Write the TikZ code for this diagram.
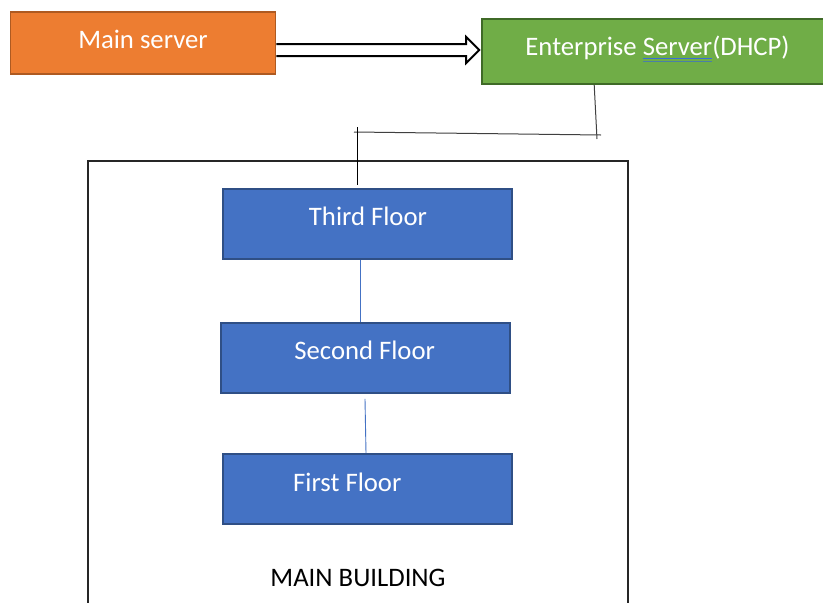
\documentclass[tikz,border=0pt]{standalone}
\usepackage{fontspec}
\setmainfont{Carlito}
\usetikzlibrary{calc}
\definecolor{orfill}{HTML}{ED7D31}
\definecolor{ordraw}{HTML}{AE5A21}
\definecolor{grfill}{HTML}{70AD47}
\definecolor{grdraw}{HTML}{3F6A27}
\definecolor{blfill}{HTML}{4472C4}
\definecolor{bldraw}{HTML}{2F4F85}
\definecolor{ulblue}{HTML}{3A6FD8}
\definecolor{ulgreen}{HTML}{4A7FA8}
\newcommand\dblul[1]{\setbox0=\hbox{#1}\leavevmode
  \rlap{\color{ulblue}\raisebox{-4.2pt}{\rule{\wd0}{0.9pt}}}%
  \rlap{\color{ulgreen}\raisebox{-6.5pt}{\rule{\wd0}{0.9pt}}}\box0}
\tikzset{
  box/.style={rectangle, draw, line width=1.6pt, inner sep=0pt},
  boxtext/.style={anchor=base, inner sep=0pt, text=white,
    font=\fontsize{26.7}{32}\selectfont},
  plaintext/.style={anchor=base, inner sep=0pt, text=black,
    font=\fontsize{26.7}{32}\selectfont},
  wire/.style={line width=1pt, draw=black!75},
  floorlink/.style={line width=0.9pt, draw=blfill},
}
\begin{document}
\begin{tikzpicture}[x=1pt, y=-1pt]
\useasboundingbox (0,0) rectangle (823,603);
\clip (0,0) rectangle (823,603);
\fill[white] (0,0) rectangle (823,603);

% servers
\node[box, fill=orfill, draw=ordraw, minimum width=265pt, minimum height=62pt] (main) at (143,43) {};
\node[box, fill=grfill, draw=grdraw, minimum width=348pt, minimum height=65pt] (dhcp) at (656,51.5) {};
\node[boxtext] (maint) at (143,48) {Main server};
\node[boxtext] (dhcpt) at (657.5,55) {Enterprise \dblul{Server}(DHCP)};

% building outline (runs past the lower edge)
\node[rectangle, draw=black!85, line width=2pt, minimum width=540pt, minimum height=490pt, inner sep=0pt] (building) at (358,405.7) {};
\node[plaintext] (buildt) at (358,586) {MAIN BUILDING};

% floors
\node[box, fill=blfill, draw=bldraw, minimum width=289pt, minimum height=70pt] (third) at (367.3,224) {};
\node[box, fill=blfill, draw=bldraw, minimum width=289pt, minimum height=70pt] (second) at (365.3,358) {};
\node[box, fill=blfill, draw=bldraw, minimum width=289pt, minimum height=70pt] (first) at (367.3,489) {};
\node[boxtext] (thirdt) at (368,225) {Third Floor};
\node[boxtext] (secondt) at (364.7,359) {Second Floor};
\node[boxtext] (firstt) at (347.3,491) {First Floor};

% hollow block arrow from the main server to the DHCP server
\coordinate (as) at ($(main.east)+(0,7)$);
\coordinate (ae) at ($(dhcp.west)+(-2,-1.5)$);
\draw[line width=2pt, fill=white, line join=miter]
  ($(as)+(0,-6)$) -- ($(ae |- as)+(-13,-6)$) -- ($(ae |- as)+(-13,-13)$)
  -- (ae |- as) -- ($(ae |- as)+(-13,13)$) -- ($(ae |- as)+(-13,6)$)
  -- ($(as)+(0,6)$);

% hand-drawn feed from the DHCP server down into the building
\coordinate (d1) at ($(dhcp.south west)+(113,0)$);
\coordinate (d2) at (597,139);
\coordinate (h1) at (601,135);
\coordinate (h2) at (354,132);
\coordinate (v1) at (357,127);
\coordinate (v2) at ($(third.north -| 357,0)+(0,-3)$);
\draw[wire] (d1) -- (d2);
\draw[wire] (h1) -- (h2);
\draw[line width=1pt, draw=black] (v1) -- (v2);

% links between floors
\draw[floorlink] ($(third.south -| 360,0)$) -- ($(second.north -| 360,0)$);
\draw[floorlink] ($(second.south -| 365,0)+(0,5)$) -- ($(first.north -| 366,0)$);
\end{tikzpicture}
\end{document}
